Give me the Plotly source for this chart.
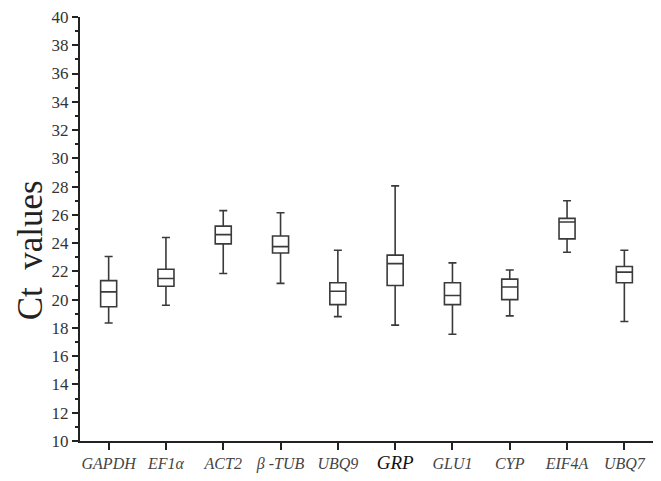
import plotly.graph_objects as go

categories = ["GAPDH", "EF1α", "ACT2", "β -TUB", "UBQ9", "GRP", "GLU1", "CYP", "EIF4A", "UBQ7"]
lower_whisker = [18.35, 19.6, 21.85, 21.15, 18.8, 18.2, 17.55, 18.85, 23.35, 18.45]
q1_values = [19.5, 20.95, 23.95, 23.3, 19.65, 21.0, 19.65, 20.0, 24.3, 21.2]
median_values = [20.55, 21.5, 24.6, 23.75, 20.6, 22.55, 20.3, 20.9, 25.5, 21.95]
q3_values = [21.35, 22.15, 25.2, 24.5, 21.2, 23.15, 21.2, 21.45, 25.75, 22.35]
upper_whisker = [23.05, 24.4, 26.3, 26.15, 23.5, 28.05, 22.6, 22.1, 27.0, 23.5]

tick_text = []
for c in categories:
    if c == "GRP":
        tick_text.append("<span style='font-size:19px;color:#111'><i>GRP</i></span>")
    else:
        tick_text.append("<i>" + c + "</i>")

fig = go.Figure()
fig.add_trace(go.Box(
    x=categories,
    q1=q1_values,
    median=median_values,
    q3=q3_values,
    lowerfence=lower_whisker,
    upperfence=upper_whisker,
    fillcolor="rgba(255,255,255,0)",
    line=dict(color="#3a3a3a", width=1.6),
    whiskerwidth=0.5,
    boxpoints=False,
    showlegend=False,
    hoverinfo="skip",
))

# page body has an 8px default margin, so margins are offset to compensate
fig.update_layout(
    width=661, height=481,
    margin=dict(l=72, r=16, t=9, b=48),
    paper_bgcolor="white", plot_bgcolor="white",
    boxgap=0.6,
    font=dict(family="Liberation Serif, Times New Roman, serif", color="#333"),
    annotations=[dict(
        text="Ct  values", x=-0.087, y=0.45, xref="paper", yref="paper",
        xanchor="center", yanchor="middle",
        showarrow=False, textangle=-90,
        font=dict(size=35, family="Liberation Serif, serif", color="#222"),
    )],
)

fig.update_xaxes(
    type="category",
    tickmode="array", tickvals=categories, ticktext=tick_text,
    range=[-0.5, 9.5],
    showline=True, linecolor="#222", linewidth=2,
    ticks="outside", ticklen=7, tickwidth=2, tickcolor="#222",
    tickfont=dict(size=16, family="Liberation Serif, serif", color="#444"),
    showgrid=False, zeroline=False, mirror=False, automargin=False,
    ticklabeloverflow="allow",
)
fig.update_yaxes(
    range=[10, 40],
    tick0=10, dtick=2,
    showline=True, linecolor="#222", linewidth=2,
    ticks="outside", ticklen=6, tickwidth=2, tickcolor="#222",
    minor=dict(ticks="outside", dtick=1, ticklen=3, tickwidth=1.5, tickcolor="#222", showgrid=False),
    tickfont=dict(size=17, family="Liberation Serif, serif", color="#333"),
    showgrid=False, zeroline=False, mirror=False, automargin=False,
    ticklabeloverflow="allow",
)

fig.write_html("out.html")
